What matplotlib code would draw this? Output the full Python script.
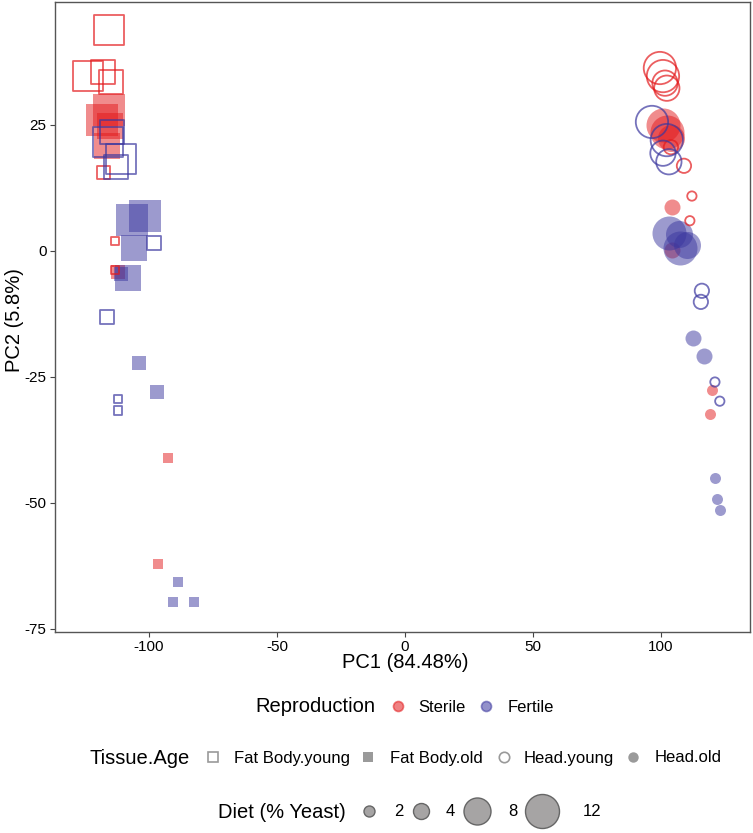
import matplotlib
matplotlib.use("Agg")
import matplotlib.pyplot as plt
from matplotlib.lines import Line2D

plt.rcParams['font.family'] = ['Liberation Sans', 'DejaVu Sans']
plt.rcParams['axes.unicode_minus'] = False

# ---- data ----
pc1 = [-115.6, -123.8, -118.0, -114.8, -117.6, -113.3, -113.3,
       -118.4, -115.6, -115.2, -116.4, -92.6, -96.5, -112.1,
       -116.0, -114.5, -110.9, -112.9, -98.0, -116.4, -112.1, -112.1,
       -101.6, -106.6, -105.9, -108.2, -110.9, -103.9, -96.9, -88.7, -90.6, -82.4,
       99.6, 100.8, 101.6, 102.3, 109.0, 112.1, 111.3, 103.9,
       100.8, 102.3, 103.9, 104.3, 104.3, 119.9, 119.1,
       96.5, 102.3, 100.8, 103.1, 116.0, 115.6, 121.1, 123.0,
       103.1, 107.0, 107.4, 110.2, 112.5, 116.8, 121.1, 121.9, 123.0]
pc2 = [43.8, 34.7, 35.5, 33.5, 15.5, 2.0, -3.8,
       26.0, 28.0, 24.8, 20.8, -41.1, -62.1, -4.2,
       21.6, 23.6, 18.3, 16.7, 1.6, -13.1, -29.4, -31.7,
       6.9, 6.2, 0.6, -5.4, -4.6, -22.2, -28.0, -65.7, -69.6, -69.6,
       36.3, 34.7, 33.3, 32.3, 16.9, 10.9, 6.0, 20.6,
       25.0, 23.6, 22.4, 8.7, 0.2, -27.6, -32.3,
       25.6, 22.0, 19.4, 17.7, -7.9, -10.1, -26.0, -29.8,
       3.6, 3.4, 0.6, 1.2, -17.3, -20.8, -45.0, -49.2, -51.4]
reproduction = (["Sterile"] * 14 + ["Fertile"] * 18 + ["Sterile"] * 15 + ["Fertile"] * 17)
tissue_age = (["Fat Body.young"] * 7 + ["Fat Body.old"] * 7 +
              ["Fat Body.young"] * 8 + ["Fat Body.old"] * 10 +
              ["Head.young"] * 8 + ["Head.old"] * 7 +
              ["Head.young"] * 8 + ["Head.old"] * 9)
diet = [12, 12, 8, 8, 4, 2, 2,
        12, 12, 8, 8, 2, 2, 4,
        12, 8, 12, 8, 4, 4, 2, 2,
        12, 12, 8, 8, 4, 4, 4, 2, 2, 2,
        12, 12, 8, 8, 4, 2, 2, 4,
        12, 12, 8, 4, 4, 2, 2,
        12, 12, 8, 8, 4, 4, 2, 2,
        12, 8, 12, 8, 4, 4, 2, 2, 2]

repro_levels = ["Sterile", "Fertile"]
tissue_levels = ["Fat Body.young", "Fat Body.old", "Head.young", "Head.old"]
diet_levels = [2, 4, 8, 12]

# ---- styles ----
W, H = 753, 833
colors = {"Sterile": "#E31A1C", "Fertile": "#3B379F"}
markers = {"Fat Body.young": ("s", False), "Fat Body.old": ("s", True),
           "Head.young": ("o", False), "Head.old": ("o", True)}
px_to_pt = 72 / 100.0
diam_px = {2: 11, 4: 16, 8: 27, 12: 34}

fig = plt.figure(figsize=(W / 100, H / 100), dpi=100)
ax = fig.add_axes([55 / W, 1 - 631.5 / H, 695 / W, 629.5 / H])

for x, y, r, t, d in zip(pc1, pc2, reproduction, tissue_age, diet):
    m, filled = markers[t]
    ms = diam_px[d] * px_to_pt
    if m == "s":
        ms *= 0.93
    if filled:
        ax.scatter([x], [y], s=ms ** 2, marker=m, color=colors[r], alpha=0.5,
                   linewidths=0, zorder=2)
    else:
        ax.scatter([x], [y], s=(ms - 1.2) ** 2, marker=m, facecolors="none",
                   edgecolors=colors[r], alpha=0.7, linewidths=1.3, zorder=3)

ax.set_xlim(-136.7, 134.8)
ax.set_ylim(-75.5, 49.4)
ax.set_xticks([-100, -50, 0, 50, 100])
ax.set_yticks([25, 0, -25, -50, -75])
ax.tick_params(axis="both", direction="out", length=3.5, width=0.8,
               color="#444444", labelsize=11, labelcolor="black", pad=2.5)
for s in ax.spines.values():
    s.set_color("#555555")
    s.set_linewidth(1.0)
fig.text(405 / W, 1 - 663 / H, "PC1 (84.48%)", fontsize=14.5, ha="center", va="center")
fig.text(15 / W, 1 - 320 / H, "PC2 (5.8%)", fontsize=14.5, ha="center", va="center",
         rotation=90)

# ---- legends ----
title_fs = 14.5
label_fs = 12
fs_px = label_fs * 100 / 72


def key_legend(handle, label, cx, tx, y, h=17):
    fig.legend([handle], [label], loc="center left",
               bbox_to_anchor=((cx - h / 2) / W, 1 - y / H),
               frameon=False, fontsize=label_fs, handlelength=h / fs_px,
               handletextpad=(tx - cx - h / 2) / fs_px, borderpad=0,
               borderaxespad=0)


# Reproduction
y_rep = 707
fig.text(375 / W, 1 - y_rep / H, "Reproduction", fontsize=title_fs, va="center", ha="right")
for r, cx, tx in zip(repro_levels, [398, 486], [418, 508]):
    hdl = Line2D([], [], marker="o", linestyle="none", markersize=10 * px_to_pt,
                 markerfacecolor=colors[r], markeredgecolor=colors[r], alpha=0.55,
                 markeredgewidth=1.2)
    key_legend(hdl, r, cx, tx, y_rep)

# Tissue.Age
y_t = 758
fig.text(190 / W, 1 - y_t / H, "Tissue.Age", fontsize=title_fs, va="center", ha="right")
for t, cx, tx in zip(tissue_levels, [213, 368, 504, 633], [234, 390, 524, 655]):
    m, filled = markers[t]
    hdl = Line2D([], [], marker=m, linestyle="none", markersize=7.5,
                 markerfacecolor="#9a9a9a" if filled else "none",
                 markeredgecolor="#9a9a9a", markeredgewidth=1.2 if not filled else 0)
    key_legend(hdl, t, cx, tx, y_t)

# Diet
y_d = 812
fig.text(346 / W, 1 - y_d / H, "Diet (% Yeast)", fontsize=title_fs, va="center", ha="right")
for d, cx, tx in zip(diet_levels, [369, 421, 477, 542], [394, 446, 508, 583]):
    hdl = Line2D([], [], marker="o", linestyle="none", markersize=diam_px[d] * px_to_pt,
                 markerfacecolor="#a6a4a4", markeredgecolor="#666666", markeredgewidth=1.0)
    key_legend(hdl, str(d), cx, tx, y_d, h=min(diam_px[d] + 4, 2 * (tx - cx) - 4))

fig.savefig("out.png", dpi=100)
